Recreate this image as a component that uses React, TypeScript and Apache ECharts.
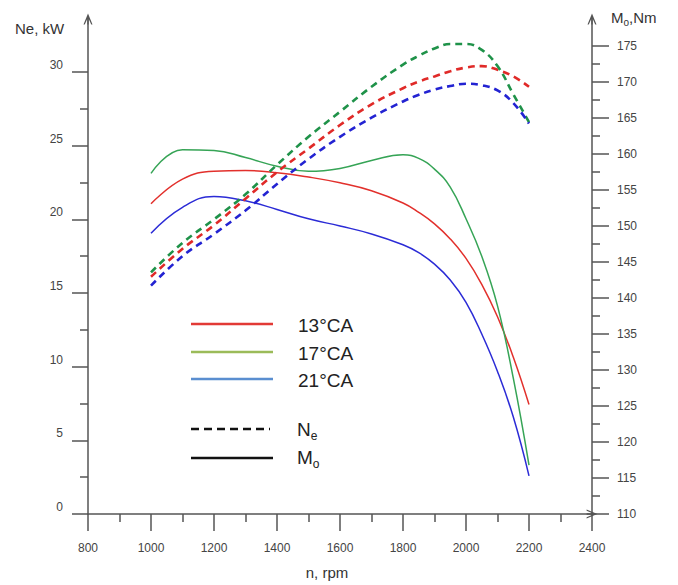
import React, { useEffect, useRef } from 'react';
import * as echarts from 'echarts';

// engine speed, rpm
const rpm = [1000, 1100, 1200, 1300, 1400, 1500, 1600, 1700, 1800, 1850, 1900, 1950, 2000, 2050, 2100, 2150, 2200];
// effective power Ne, kW (left axis, dashed)
const neCA13 = [16.1, 18.0, 19.6, 21.4, 23.2, 24.8, 26.4, 27.8, 28.9, 29.35, 29.7, 30.05, 30.3, 30.4, 30.15, 29.7, 29.0];
const neCA17 = [16.4, 18.4, 20.0, 21.7, 23.7, 25.6, 27.3, 29.0, 30.5, 31.1, 31.6, 31.9, 31.9, 31.5, 30.4, 28.5, 26.6];
const neCA21 = [15.5, 17.5, 19.0, 20.6, 22.4, 24.1, 25.6, 26.9, 28.0, 28.45, 28.8, 29.05, 29.2, 29.1, 28.75, 27.9, 26.5];
// torque Mo, Nm (right axis, solid)
const moCA13 = [153.1, 156.5, 157.6, 157.7, 157.4, 156.8, 156.0, 154.9, 153.2, 151.9, 150.3, 148.2, 145.5, 141.9, 137.4, 131.8, 125.2];
const moCA17 = [157.3, 160.6, 160.5, 159.5, 158.3, 157.6, 158.0, 159.1, 159.9, 159.4, 157.9, 155.4, 151.0, 145.8, 138.9, 128.9, 116.8];
const moCA21 = [149.0, 152.6, 154.1, 153.5, 152.3, 151.0, 150.0, 148.9, 147.4, 146.3, 144.7, 142.5, 139.4, 135.0, 129.8, 123.5, 115.3];

const legendLabels = ['13°CA', '17°CA', '21°CA'];
const legendColors = ['#e23a36', '#9bbb59', '#5a8ed0'];
const solidColors = ['#e2302c', '#36a456', '#2b2bd6'];
const dashColors = ['#e02a28', '#1f9249', '#2323d2'];

const FONT = '"Liberation Sans", Arial, Helvetica, sans-serif';
const AXIS_COLOR = '#555';
const TEXT_COLOR = '#333';
// open chevron arrow head (points up, rotated by echarts)
const ARROW = 'path://M0,12 L5,0 L10,12 L8.6,12 L5.7,5.6 L5.7,12 L4.3,12 L4.3,5.6 L1.4,12 Z';

export default function App() {
  const ref = useRef<HTMLDivElement>(null);

  useEffect(() => {
    const chart = echarts.init(ref.current as HTMLDivElement, null, { renderer: 'svg' });

    const grids = [
      { left: 88, right: 86, top: 72, bottom: 71 }, // Ne
      { left: 88, right: 86, top: 46, bottom: 71 }, // Mo
      { left: 88, right: 86, top: 19, bottom: 71 }, // axis lines with arrows
    ];

    const tickStyle = { color: AXIS_COLOR, width: 1.5 };

    const neSeries = [neCA13, neCA17, neCA21].map((d, k) => ({
      name: 'Ne ' + legendLabels[k],
      type: 'line',
      xAxisIndex: 0,
      yAxisIndex: 0,
      data: rpm.map((r, i) => [r, d[i]]),
      smooth: 0.45,
      clip: false,
      showSymbol: false,
      symbol: 'none',
      silent: true,
      lineStyle: { color: dashColors[k], width: 2.6, type: [7, 5] },
      z: 3,
    }));
    const moSeries = [moCA13, moCA17, moCA21].map((d, k) => ({
      name: 'Mo ' + legendLabels[k],
      type: 'line',
      xAxisIndex: 1,
      yAxisIndex: 1,
      data: rpm.map((r, i) => [r, d[i]]),
      smooth: 0.45,
      clip: false,
      showSymbol: false,
      symbol: 'none',
      silent: true,
      lineStyle: { color: solidColors[k], width: 1.5 },
      z: 2,
    }));

    const legendGraphics: any[] = [];
    const rowY = [324, 352, 379];
    legendLabels.forEach((lab, k) => {
      legendGraphics.push({
        type: 'line',
        shape: { x1: 191, y1: rowY[k], x2: 273, y2: rowY[k] },
        style: { stroke: legendColors[k], lineWidth: 2.5 },
      });
      legendGraphics.push({
        type: 'text',
        x: 298,
        y: rowY[k] + 1,
        style: {
          text: lab,
          fontSize: 19,
          fontFamily: FONT,
          fill: '#222',
          align: 'left',
          verticalAlign: 'middle',
        },
      });
    });
    legendGraphics.push(
      {
        type: 'line',
        shape: { x1: 191, y1: 429, x2: 270, y2: 429 },
        style: { stroke: '#111', lineWidth: 2.5, lineDash: [8, 5] },
      },
      {
        type: 'line',
        shape: { x1: 191, y1: 458, x2: 273, y2: 458 },
        style: { stroke: '#111', lineWidth: 2.5 },
      },
      {
        type: 'text',
        x: 297,
        y: 429,
        style: {
          text: '{n|N}{s|e}',
          fill: '#222',
          align: 'left',
          verticalAlign: 'middle',
          rich: {
            n: { fontSize: 19, lineHeight: 26, fontFamily: FONT, fill: '#222' },
            s: { fontSize: 12, lineHeight: 16, fontFamily: FONT, fill: '#222', verticalAlign: 'bottom' },
          },
        },
      },
      {
        type: 'text',
        x: 297,
        y: 457,
        style: {
          text: '{n|M}{s|o}',
          fill: '#222',
          align: 'left',
          verticalAlign: 'middle',
          rich: {
            n: { fontSize: 19, lineHeight: 26, fontFamily: FONT, fill: '#222' },
            s: { fontSize: 12, lineHeight: 16, fontFamily: FONT, fill: '#222', verticalAlign: 'bottom' },
          },
        },
      },
      {
        type: 'text',
        x: 15,
        y: 28,
        style: {
          text: 'Ne, kW',
          fontSize: 15,
          fontFamily: FONT,
          fill: TEXT_COLOR,
          align: 'left',
          verticalAlign: 'middle',
        },
      },
      {
        type: 'text',
        x: 611,
        y: 17,
        style: {
          text: '{a|M}{b|o}{a|,Nm}',
          fill: TEXT_COLOR,
          align: 'left',
          verticalAlign: 'middle',
          rich: {
            a: { fontSize: 15, lineHeight: 20, fontFamily: FONT, fill: TEXT_COLOR },
            b: { fontSize: 10, lineHeight: 12, fontFamily: FONT, fill: TEXT_COLOR, verticalAlign: 'bottom' },
          },
        },
      },
      {
        type: 'text',
        x: 327,
        y: 572,
        style: {
          text: 'n, rpm',
          fontSize: 15,
          fontFamily: FONT,
          fill: TEXT_COLOR,
          align: 'center',
          verticalAlign: 'middle',
        },
      }
    );

    const option: any = {
      animation: false,
      backgroundColor: '#fff',
      textStyle: { fontFamily: FONT },
      grid: grids,
      xAxis: [
        {
          type: 'value',
          gridIndex: 0,
          min: 800,
          max: 2400,
          interval: 200,
          axisLine: {
            show: true,
            lineStyle: { color: AXIS_COLOR, width: 1.5 },
            symbol: ['none', ARROW],
            symbolSize: [9, 11],
          },
          axisTick: { show: true, length: 17, lineStyle: tickStyle },
          minorTick: { show: true, splitNumber: 2, length: 8, lineStyle: tickStyle },
          axisLabel: {
            show: true,
            margin: 28,
            fontSize: 12,
            color: '#444',
            fontFamily: FONT,
            formatter: (v: number) => String(v),
          },
          splitLine: { show: false },
          minorSplitLine: { show: false },
        },
        { type: 'value', gridIndex: 1, min: 800, max: 2400, show: false },
        { type: 'value', gridIndex: 2, min: 0, max: 1, show: false },
      ],
      yAxis: [
        {
          type: 'value',
          gridIndex: 0,
          position: 'left',
          min: 0,
          max: 30,
          interval: 5,
          axisLine: { show: false },
          axisTick: { show: true, length: 16, lineStyle: tickStyle },
          minorTick: { show: true, splitNumber: 2, length: 8, lineStyle: tickStyle },
          axisLabel: {
            show: true,
            margin: 25,
            fontSize: 12,
            color: '#444',
            fontFamily: FONT,
            verticalAlign: 'bottom',
            lineHeight: 14,
            formatter: (v: number) => String(v),
          },
          splitLine: { show: false },
          minorSplitLine: { show: false },
        },
        {
          type: 'value',
          gridIndex: 1,
          position: 'right',
          min: 110,
          max: 175,
          interval: 5,
          axisLine: { show: false },
          axisTick: { show: true, length: 17, lineStyle: tickStyle },
          minorTick: { show: true, splitNumber: 2, length: 8, lineStyle: tickStyle },
          axisLabel: {
            show: true,
            margin: 25,
            fontSize: 12,
            color: '#444',
            fontFamily: FONT,
            formatter: (v: number) => String(v),
          },
          splitLine: { show: false },
          minorSplitLine: { show: false },
        },
        {
          type: 'value',
          gridIndex: 2,
          position: 'left',
          min: 0,
          max: 1,
          axisLine: {
            show: true,
            lineStyle: { color: AXIS_COLOR, width: 1.5 },
            symbol: ['none', ARROW],
            symbolSize: [9, 11],
          },
          axisTick: { show: false },
          axisLabel: { show: false },
          splitLine: { show: false },
        },
        {
          type: 'value',
          gridIndex: 2,
          position: 'right',
          min: 0,
          max: 1,
          axisLine: {
            show: true,
            lineStyle: { color: AXIS_COLOR, width: 1.5 },
            symbol: ['none', ARROW],
            symbolSize: [9, 11],
          },
          axisTick: { show: false },
          axisLabel: { show: false },
          splitLine: { show: false },
        },
      ],
      series: [...moSeries, ...neSeries],
      graphic: legendGraphics,
    };

    chart.setOption(option);
    return () => chart.dispose();
  }, []);

  return (
    <div
      ref={ref}
      style={{ position: 'absolute', left: 0, top: 0, width: 678, height: 585, background: '#fff' }}
    />
  );
}
